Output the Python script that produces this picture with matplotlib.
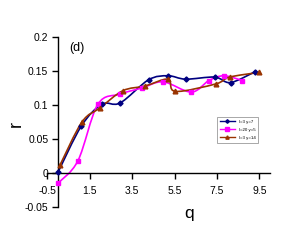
import numpy as np
import matplotlib
matplotlib.use("Agg")
import matplotlib.pyplot as plt
from matplotlib.path import Path
from matplotlib.patches import PathPatch

plt.rcParams['font.family'] = ['Liberation Sans', 'DejaVu Sans']

# values
q_blue = [0.0, 1.1, 2.07, 2.93, 4.27, 5.19, 6.02, 7.39, 8.14, 9.3]
r_blue = [0.001, 0.069, 0.101, 0.103, 0.137, 0.143, 0.138, 0.141, 0.133, 0.149]

q_pink = [0.0, 0.94, 1.88, 2.93, 3.95, 4.96, 6.29, 7.12, 7.83, 8.69]
r_pink = [-0.015, 0.018, 0.101, 0.116, 0.125, 0.134, 0.119, 0.136, 0.143, 0.136]

q_brown = [0.1, 1.13, 1.99, 3.06, 4.11, 5.19, 5.54, 7.44, 8.09, 9.5]
r_brown = [0.012, 0.075, 0.096, 0.121, 0.128, 0.138, 0.120, 0.131, 0.141, 0.148]

labels = ['l=3 y=7', 'l=20 y=5', 'l=3 y=14']
colors = ['#000080', '#FF00FF', '#993300']
markers = ['D', 's', '^']
msizes = [2.6, 3.4, 3.4]

xticks = [-0.5, 1.5, 3.5, 5.5, 7.5, 9.5]
yticks = [-0.05, 0, 0.05, 0.1, 0.15, 0.2]


def smooth_path(xs, ys):
    # Catmull-Rom curve as cubic bezier segments (like a spreadsheet "smoothed line")
    p = np.column_stack([xs, ys])
    verts = [p[0]]
    codes = [Path.MOVETO]
    n = len(p)
    for i in range(n - 1):
        p0 = p[i - 1] if i > 0 else p[i]
        p1 = p[i]
        p2 = p[i + 1]
        p3 = p[i + 2] if i + 2 < n else p[i + 1]
        verts += [p1 + (p2 - p0) / 6.0, p2 - (p3 - p1) / 6.0, p2]
        codes += [Path.CURVE4] * 3
    return Path(verts, codes)


fig = plt.figure(figsize=(2.89, 2.42), dpi=100)
ax = fig.add_axes((47.4 / 289, 35 / 242, 222.6 / 289, 170 / 242))

series = [(q_blue, r_blue), (q_pink, r_pink), (q_brown, r_brown)]
for (xs, ys), c, m, ms, lab in zip(series, colors, markers, msizes, labels):
    ax.add_patch(PathPatch(smooth_path(xs, ys), fill=False, edgecolor=c, lw=1.2, zorder=2))
    ax.plot(xs, ys, ls='none', marker=m, color=c, ms=ms, zorder=3)
    ax.plot([], [], color=c, marker=m, ms=ms * 0.7, lw=1.0, label=lab)

ax.set_xlim(-0.5, 10)
ax.set_ylim(-0.05, 0.2)
ax.spines["top"].set_visible(False)
ax.spines["right"].set_visible(False)
ax.spines["left"].set_position(('data', 0))
ax.spines["bottom"].set_position(('data', 0))
ax.spines["left"].set_linewidth(1.0)
ax.spines["bottom"].set_linewidth(1.0)

ax.set_xticks(xticks)
ax.set_xticklabels([str(t) for t in xticks])
ax.set_yticks(yticks)
ax.set_yticklabels(['-0.05', '0', '0.05', '0.1', '0.15', '0.2'])
ax.xaxis.set_tick_params(width=1, length=4, pad=5, labelsize=7.5)
ax.yaxis.set_tick_params(width=1, length=4, pad=3, labelsize=7.5)
ax.patch.set_visible(False)

fig.text(189 / 289, 1 - 218 / 242, 'q', fontsize=12.5, ha='center', va='baseline')
fig.text(16 / 289, 1 - 124 / 242, 'r', fontsize=13, ha='center', va='center', rotation=90)
fig.text(77 / 289, 1 - 48 / 242, '(d)', fontsize=9, ha='center', va='center')

leg = ax.legend(loc='upper left', bbox_to_anchor=(217 / 289, 1 - 117 / 242),
                bbox_transform=fig.transFigure, fontsize=3.2, frameon=True,
                fancybox=False, handlelength=3.5, borderpad=0.6, labelspacing=0.9,
                handletextpad=0.8, borderaxespad=0)
leg.get_frame().set_edgecolor('#808080')
leg.get_frame().set_linewidth(0.6)

fig.savefig('out.png', dpi=100)
